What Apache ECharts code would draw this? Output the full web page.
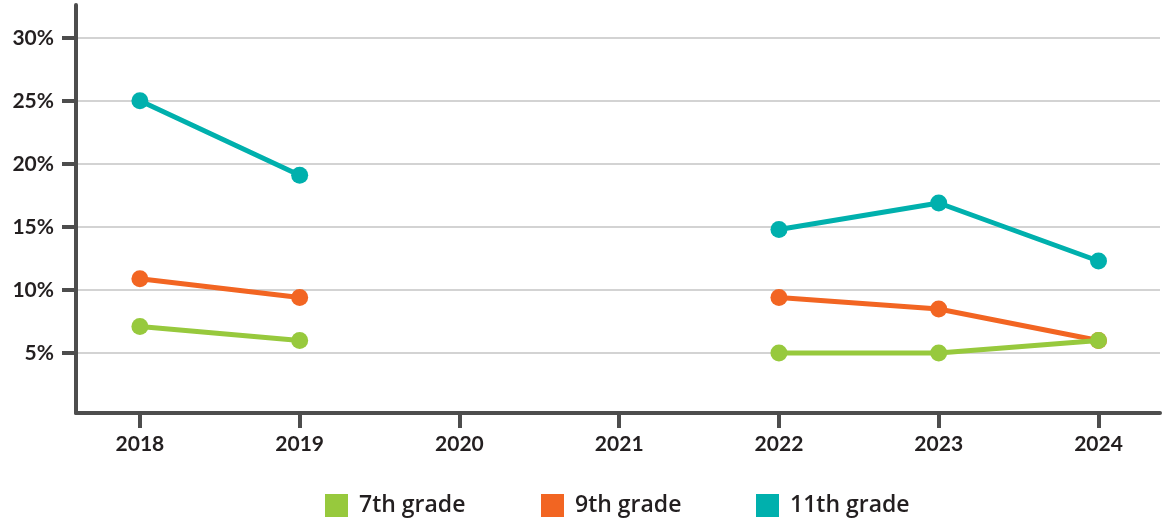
<!DOCTYPE html>
<html>
<head>
<meta charset="utf-8">
<script src="https://cdn.jsdelivr.net/npm/echarts@6/dist/echarts.min.js"></script>
<style>
html,body{margin:0;padding:0;background:#fff;}
#chart{width:1165px;height:525px;}
</style>
</head>
<body>
<div id="chart"></div>
<script>
var years = [2018, 2019, 2020, 2021, 2022, 2023, 2024];
var grade7 = [7.1, 6.0, null, null, 5.0, 5.0, 6.0];
var grade9 = [10.9, 9.4, null, null, 9.4, 8.5, 6.0];
var grade11 = [25.0, 19.1, null, null, 14.8, 16.9, 12.3];
var yTicks = [5, 10, 15, 20, 25, 30];
var seriesNames = ['7th grade', '9th grade', '11th grade'];
var colors = ['#97c93d', '#f26522', '#00b0ad'];

function pairs(vals) {
  return years.map(function (y, i) { return [y, vals[i] == null ? '-' : vals[i]]; });
}
var allVals = [grade7, grade9, grade11];
var legendLefts = [325, 541, 756];
var seriesZ = [4, 3, 2];

var chart = echarts.init(document.getElementById('chart'), null, {renderer: 'canvas'});
var font = 'Lato, "Open Sans", sans-serif';
var legendFont = '"Open Sans", Lato, sans-serif';
chart.setOption({
  animation: false,
  backgroundColor: '#ffffff',
  color: colors,
  grid: {left: 76, right: 5, top: 5, bottom: 112, containLabel: false},
  legend: seriesNames.map(function (n, k) {
    return {
      top: 494,
      left: legendLefts[k],
      padding: 0,
      itemWidth: 23,
      itemHeight: 23,
      icon: 'rect',
      selectedMode: false,
      textStyle: {fontFamily: legendFont, fontSize: 23, lineHeight: 23, color: '#231f20', fontWeight: 600, padding: [0, 0, 0, 6]},
      data: [{name: n, itemStyle: {borderWidth: 0}}]
    };
  }),
  xAxis: {
    type: 'value',
    min: 2017.6,
    max: 2024.385,
    axisLine: {show: true, onZero: false, lineStyle: {color: '#4d4d4d', width: 4}},
    axisTick: {show: true, length: 15, customValues: years, lineStyle: {color: '#4d4d4d', width: 4}},
    axisLabel: {
      customValues: years, margin: 21,
      fontFamily: font, fontSize: 21, fontWeight: 'bold', color: '#231f20',
      formatter: function (v) { return String(v); }
    },
    splitLine: {show: false}
  },
  yAxis: {
    type: 'value',
    min: 0.25,
    max: 32.6,
    axisLine: {show: true, lineStyle: {color: '#4d4d4d', width: 4}},
    axisTick: {show: true, length: 14, customValues: yTicks, lineStyle: {color: '#4d4d4d', width: 4}},
    axisLabel: {
      customValues: yTicks, margin: 22,
      fontFamily: font, fontSize: 21, fontWeight: 'bold', color: '#231f20',
      formatter: function (v) { return v + '%'; }
    },
    splitLine: {show: true, lineStyle: {color: '#c4c4c4', width: 1.5}}
  },
  series: seriesNames.map(function (n, k) {
    return {
      name: n,
      type: 'line',
      z: seriesZ[k],
      data: pairs(allVals[k]),
      connectNulls: false,
      symbol: 'circle',
      symbolSize: 17,
      lineStyle: {width: 5, color: colors[k]},
      itemStyle: {color: colors[k], borderWidth: 0},
      emphasis: {disabled: true}
    };
  })
});
</script>
</body>
</html>
